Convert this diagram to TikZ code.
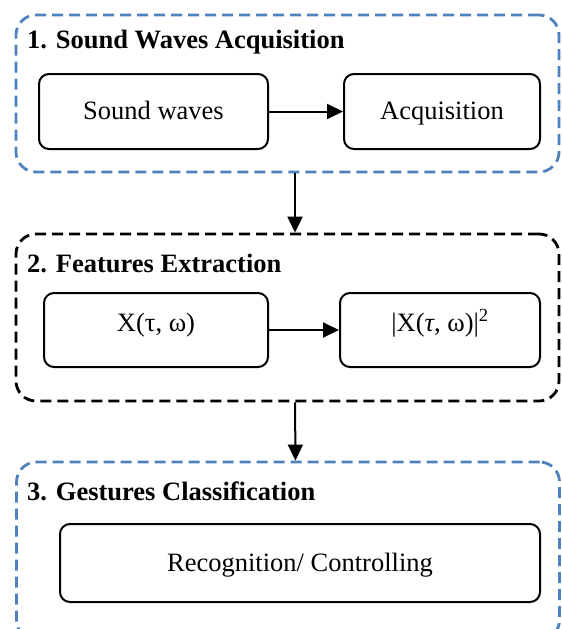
\documentclass[tikz,border=0pt]{standalone}
\usepackage{fontspec}
\setmainfont{Liberation Serif}
\usetikzlibrary{arrows.meta}
\definecolor{grpblue}{RGB}{79,129,189}

\begin{document}
\begin{tikzpicture}[x=1pt, y=-1pt,
    group/.style={draw, rounded corners=20pt, line width=2.8pt, dash pattern=on 11pt off 6pt, minimum width=543pt, inner sep=0pt},
    box/.style={draw, rounded corners=10pt, line width=2pt, minimum height=75pt, inner sep=0pt, text height=19pt, text depth=3pt, font=\fontsize{26.5}{30}\selectfont},
    eqbox/.style={box, text height=20pt, text depth=18pt},
    title/.style={anchor=base west, inner sep=0pt, font=\fontsize{26.5}{30}\selectfont\bfseries},
    arr/.style={-{Triangle[length=16pt,width=15pt]}, line width=2pt}]
    \useasboundingbox (0,0) rectangle (562,629);
    \clip (0,0) rectangle (562,629);

    % 1. acquisition
    \node[group, grpblue, minimum height=157pt] (g1) at (287.5, 93.5) {};
    \node[title] (t1) at (27, 48) {1. Sound Waves Acquisition};
    \node[box, minimum width=229pt] (sw) at (153.5, 111.5) {Sound waves};
    \node[box, minimum width=196pt] (acq) at (442, 111.5) {Acquisition};
    \draw[arr] (sw) -- (acq);

    % 2. features
    \node[group, minimum height=167pt] (g2) at (287.5, 317.5) {};
    \node[title] (t2) at (27, 272) {2. Features Extraction};
    \node[eqbox, minimum width=224pt, minimum height=74pt] (stft) at (156, 330) {X(τ, ω)};
    \node[eqbox, minimum width=200pt, minimum height=74pt] (pow) at (440, 330) {|X(\textit{τ}, ω)|\textsuperscript{2}};
    \draw[arr] (stft) -- (pow);

    % 3. classification
    \node[group, grpblue, minimum height=178pt] (g3) at (288, 551) {};
    \node[title] (t3) at (27, 500) {3. Gestures Classification};
    \node[box, minimum width=480pt, minimum height=78pt] (rec) at (300, 563) {Recognition/ Controlling};

    \draw[arr] ([xshift=7.5pt]g1.south) -- ([xshift=7.5pt]g2.north);
    \draw[arr] ([xshift=7.5pt]g2.south) -- ([xshift=7.5pt]g3.north);
\end{tikzpicture}
\end{document}
